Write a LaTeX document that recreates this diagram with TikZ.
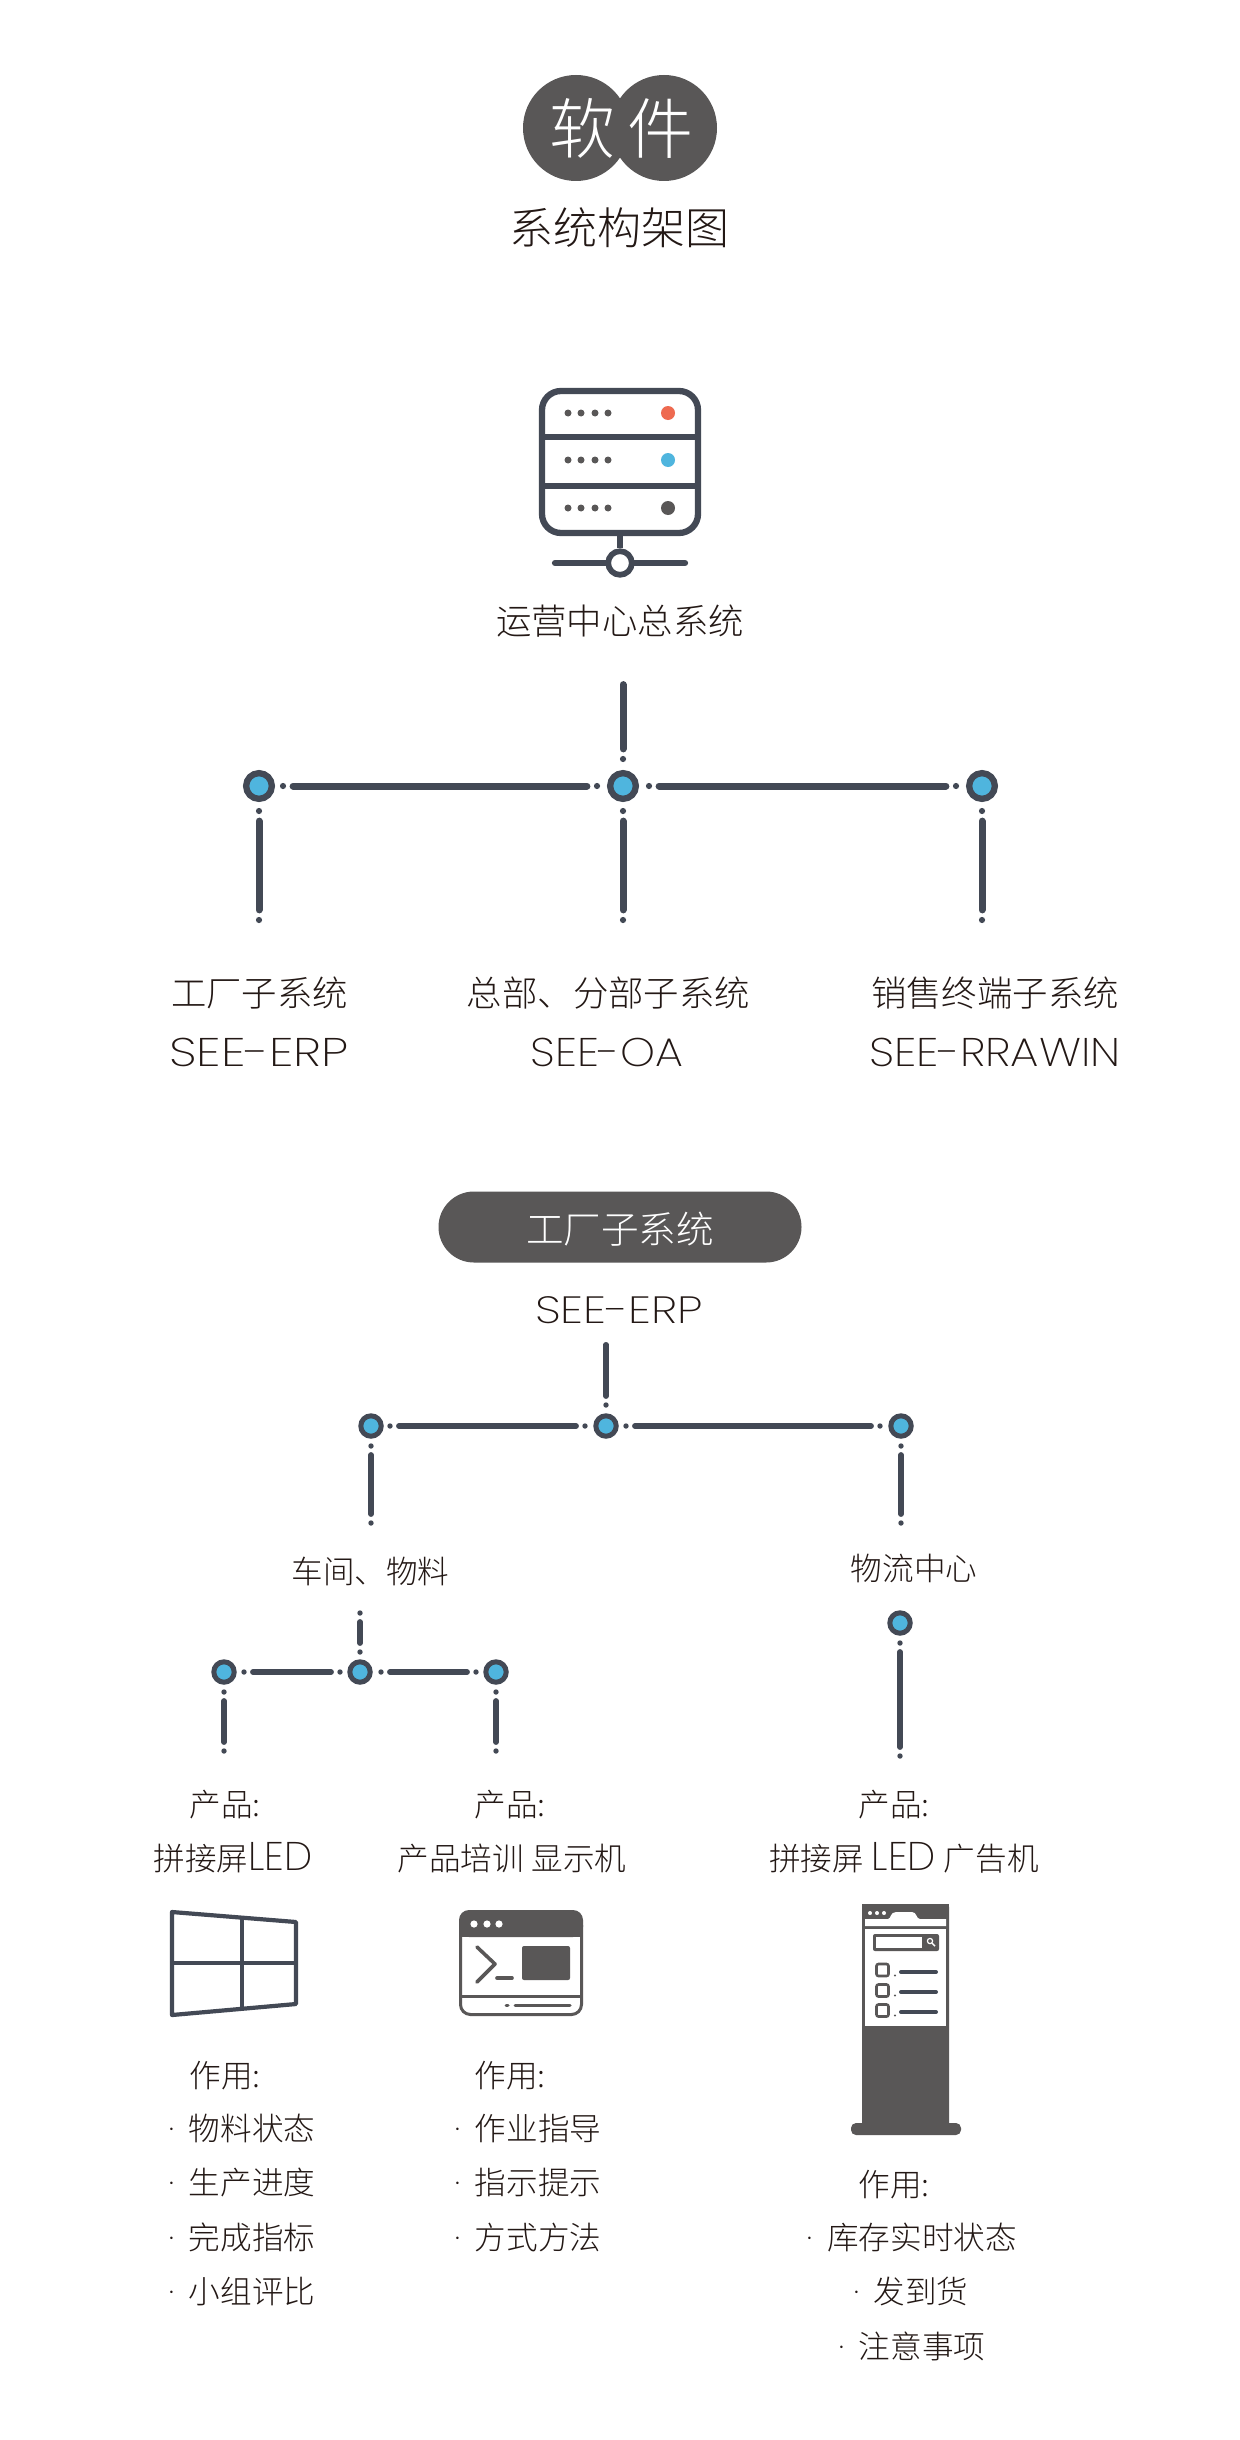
\documentclass[tikz,border=0pt]{standalone}
\usepackage{fontspec}
\setmainfont{Noto Sans CJK SC Light}
\newfontfamily\lat{Poppins ExtraLight}
\newcommand{\blt}{\llap{{\lat ·}\hspace{7.3pt}}}
\definecolor{ln}{HTML}{434955}
\definecolor{gy}{HTML}{595757}
\definecolor{bl}{HTML}{4FB5DE}
\definecolor{rd}{HTML}{EE6A50}
\definecolor{tx}{HTML}{231815}
\tikzset{
 txt/.style={inner sep=0pt,text=tx,anchor=center,text depth=0pt},
 big/.style={txt,text height=13.4pt,font=\fontsize{17.7pt}{20pt}\selectfont},
 mid/.style={txt,text height=12pt,font=\fontsize{15.8pt}{18pt}\selectfont},
 ltn/.style={txt,text height=14pt,font=\lat\fontsize{20pt}{22pt}\selectfont},
 ringa/.style={circle,draw=ln,fill=bl,line width=3.15pt,minimum size=12.85pt,inner sep=0pt},
 ringb/.style={circle,draw=ln,fill=bl,line width=2.5pt,minimum size=10.2pt,inner sep=0pt},
 dota/.style={circle,fill=ln,inner sep=0pt,minimum size=3.1pt},
 dotb/.style={circle,fill=ln,inner sep=0pt,minimum size=2.7pt},
 conna/.style={draw=ln,line width=3.5pt,line cap=round,shorten <=3.3pt,shorten >=3.3pt},
 connb/.style={draw=ln,line width=2.7pt,line cap=round,shorten <=2.85pt,shorten >=2.85pt},
 icon/.style={draw=ln,line width=3.15pt,line cap=round},
 sdot/.style={circle,fill=gy,inner sep=0pt,minimum size=3.5pt},
 ldot/.style={circle,inner sep=0pt,minimum size=7pt},
}
\begin{document}
\begin{tikzpicture}[x=0.5pt,y=-0.5pt]
\useasboundingbox (0,0) rectangle (1240,2440);
\fill[white] (0,0) rectangle (1240,2440);
% title
\node[circle,fill=gy,minimum size=53pt,inner sep=0pt] (cl) at (576,128) {};
\node[circle,fill=gy,minimum size=53pt,inner sep=0pt] (cr) at (664,128) {};
\node[txt,text=white,text height=25pt,font=\fontsize{33pt}{35pt}\selectfont] (t1) at (582,129) {软};
\node[txt,text=white,text height=25pt,font=\fontsize{33pt}{35pt}\selectfont] (t2) at (660,129) {件};
\node[txt,text height=16.7pt,font=\fontsize{22pt}{24pt}\selectfont] (t3) at (619.5,228) {系统构架图};
% server
\node[draw=ln,line width=3.15pt,rounded corners=9.5pt,minimum width=78pt,minimum height=71pt,inner sep=0pt,outer sep=0pt] (srv) at (620,462) {};
\draw[icon,line cap=butt] (542,437) -- (698,437) (542,486) -- (698,486);
\foreach \yy/\cc [count=\i] in {413/rd,460/bl,508/gy}{
  \foreach \xx [count=\j] in {568,581,595,608}{\node[sdot] (s\i\j) at (\xx,\yy) {};}
  \node[ldot,fill=\cc] (sl\i) at (668,\yy) {};
}
\node[circle,draw=ln,fill=white,line width=2.85pt,minimum size=11.8pt,inner sep=0pt] (hub) at (620,563) {};
\coordinate (hl) at (555,563);
\coordinate (hr) at (685,563);
\draw[icon] (hl) -- (hub);
\draw[icon] (hr) -- (hub);
\draw[icon,line cap=butt] (srv.south) -- (hub.north);
\node[big] (l0) at (620,621) {运营中心总系统};
% network 1
\node[ringa] (a0) at (259,786) {};
\node[ringa] (a1) at (623,786) {};
\node[ringa] (a2) at (982,786) {};
\coordinate (a1top) at (623,678);
\node[dota] (a1t) at (623,759) {};
\node[dota] (a0r) at (283,786) {};
\node[dota] (a1l) at (597,786) {};
\node[dota] (a1r) at (649,786) {};
\node[dota] (a2l) at (956,786) {};
\node[dota] (a0d) at (259,811) {};
\node[dota] (a1d) at (623,811) {};
\node[dota] (a2d) at (982,811) {};
\node[dota] (a0e) at (259,920) {};
\node[dota] (a1e) at (623,920) {};
\node[dota] (a2e) at (982,920) {};
\draw[conna] (a1top) -- (a1t);
\draw[conna] (a0r) -- (a1l);
\draw[conna] (a1r) -- (a2l);
\draw[conna] (a0d) -- (a0e);
\draw[conna] (a1d) -- (a1e);
\draw[conna] (a2d) -- (a2e);
\node[big] (b1) at (259.5,993) {工厂子系统};
\node[big] (b2) at (608.5,993) {总部、分部子系统};
\node[big] (b3) at (995,993) {销售终端子系统};
\node[ltn,xscale=1.24] (b4) at (259,1052) {SEE-ERP};
\node[ltn,xscale=1.11] (b5) at (607,1052) {SEE-OA};
\node[ltn,xscale=1.13] (b6) at (995,1052) {SEE-RRAWIN};
% pill
\node[rounded corners=17.7pt,fill=gy,minimum width=181.5pt,minimum height=35.5pt,inner sep=0pt] (pill) at (620,1227) {};
\node[txt,text=white,text height=14.3pt,font=\fontsize{18.8pt}{20pt}\selectfont] (pt) at (620,1229) {工厂子系统};
\node[ltn,xscale=1.22,text height=13.3pt,font=\lat\fontsize{19pt}{21pt}\selectfont] (pe) at (619,1310) {SEE-ERP};
% network 2
\node[ringb] (c0) at (371,1426) {};
\node[ringb] (c1) at (606,1426) {};
\node[ringb] (c2) at (901,1426) {};
\coordinate (c1top) at (606,1339);
\node[dotb] (c1t) at (606,1405) {};
\node[dotb] (c0r) at (390,1426) {};
\node[dotb] (c1l) at (585,1426) {};
\node[dotb] (c1r) at (626,1426) {};
\node[dotb] (c2l) at (880,1426) {};
\node[dotb] (c0d) at (371,1446) {};
\node[dotb] (c2d) at (901,1446) {};
\node[dotb] (c0e) at (371,1523) {};
\node[dotb] (c2e) at (901,1523) {};
\draw[connb] (c1top) -- (c1t);
\draw[connb] (c0r) -- (c1l);
\draw[connb] (c1r) -- (c2l);
\draw[connb] (c0d) -- (c0e);
\draw[connb] (c2d) -- (c2e);
\node[mid] (d1) at (370.5,1571.5) {车间、物料};
\node[mid] (d2) at (914,1568.5) {物流中心};
% network 3
\node[ringb] (e0) at (224,1672) {};
\node[ringb] (e1) at (360,1672) {};
\node[ringb] (e2) at (496,1672) {};
\node[ringb] (f0) at (900,1623) {};
\node[dotb] (e1u) at (360,1613) {};
\node[dotb] (e1t) at (360,1652) {};
\node[dotb] (e0r) at (244,1672) {};
\node[dotb] (e1l) at (340,1672) {};
\node[dotb] (e1r) at (381,1672) {};
\node[dotb] (e2l) at (476,1672) {};
\node[dotb] (e0d) at (224,1692) {};
\node[dotb] (e2d) at (496,1692) {};
\node[dotb] (e0e) at (224,1751) {};
\node[dotb] (e2e) at (496,1751) {};
\node[dotb] (f0d) at (900,1643) {};
\node[dotb] (f0e) at (900,1756) {};
\draw[connb] (e1u) -- (e1t);
\draw[connb] (e0r) -- (e1l);
\draw[connb] (e1r) -- (e2l);
\draw[connb] (e0d) -- (e0e);
\draw[connb] (e2d) -- (e2e);
\draw[connb] (f0d) -- (f0e);
% product labels
\node[mid] (g1) at (225,1804.5) {产品:};
\node[mid] (g2) at (233,1858.5) {拼接屏{\lat\fontsize{20pt}{20pt}\selectfont LED}};
\node[mid] (g3) at (510,1804.5) {产品:};
\node[mid] (g4) at (512,1858.5) {产品培训\hspace{.25em}显示机};
\node[mid] (g5) at (894,1804.5) {产品:};
\node[mid] (g6) at (904,1858.5) {拼接屏\hspace{.25em}{\lat\fontsize{20pt}{20pt}\selectfont LED}\hspace{.25em}广告机};
% window icon
\draw[draw=ln,line width=2.1pt,line join=round] (172,1912) -- (296,1922) -- (296,2004) -- (172,2015) -- cycle;
\draw[draw=ln,line width=2.1pt] (242,1918) -- (242,2008) (172,1963) -- (296,1963);
% terminal icon
\fill[gy,rounded corners=5pt] (459,1910) -- (583,1910) -- (583,1937) -- (459,1937) -- cycle;
\fill[gy] (459,1925) rectangle (583,1937);
\draw[gy,line width=1.5pt,rounded corners=5pt] (460.5,1925) -- (460.5,2014.5) -- (581.5,2014.5) -- (581.5,1925);
\foreach \xx in {474,487,499}{\fill[white] (\xx,1924) circle (1.8pt);}
\draw[gy,line width=1.8pt,line cap=round,line join=round] (477,1947) -- (495,1964) -- (477,1982);
\draw[gy,line width=1.8pt,line cap=round] (497,1978) -- (512,1978);
\fill[gy,rounded corners=1pt] (522,1946) rectangle (570,1980);
\draw[gy,line width=1.5pt] (460,1996) -- (582,1996);
\draw[gy,line width=1.5pt,line cap=round] (506,2005) -- (508,2005) (515,2005) -- (570,2005);
% kiosk icon
\fill[gy,rounded corners=1.5pt] (862,1904) rectangle (949,2128);
\fill[gy,rounded corners=2.5pt] (851,2123) rectangle (961,2135);
\fill[white] (865,1929) rectangle (946,2026);
\fill[white] (865,1926) -- (865,1919) -- (888,1919) .. controls (891,1919) and (890,1912) .. (896,1912) -- (912,1912) .. controls (917,1912) and (916,1919) .. (920,1919) -- (946,1919) -- (946,1926) -- cycle;
\fill[gy] (862,1904) -- (862,1912) -- (949,1912) -- (949,1904) -- cycle;
\foreach \xx in {870,877,884}{\fill[white] (\xx,1913) circle (1pt);}
\fill[gy,rounded corners=1pt] (873,1934) rectangle (939,1951);
\fill[white] (876,1937) rectangle (922,1948);
\draw[white,line width=.6pt] (930,1941) circle (1.3pt);
\draw[white,line width=.7pt] (932,1943) -- (935,1946);
\foreach \yy/\ll in {1970/1972,1990.5/1992,2010.5/2012}{
  \draw[gy,line width=1.3pt,rounded corners=1pt] (876.5,\yy-6) rectangle (888.5,\yy+6);
  \draw[ln,line width=2pt,line cap=round] (901,\ll) -- (936,\ll);
  \fill[gy] (895,\ll+3.5) circle (.6pt);
}
% purpose labels
\node[mid] (h1) at (225,2075.5) {作用:};
\node[mid] (h2) at (252,2128.5) {\blt 物料状态};
\node[mid] (h3) at (252,2182.5) {\blt 生产进度};
\node[mid] (h4) at (252,2237.5) {\blt 完成指标};
\node[mid] (h5) at (252,2291.5) {\blt 小组评比};
\node[mid] (i1) at (510,2075.5) {作用:};
\node[mid] (i2) at (538,2128.5) {\blt 作业指导};
\node[mid] (i3) at (538,2182.5) {\blt 指示提示};
\node[mid] (i4) at (538,2237.5) {\blt 方式方法};
\node[mid] (j1) at (894,2184.5) {作用:};
\node[mid] (j2) at (922,2237.5) {\blt 库存实时状态};
\node[mid] (j3) at (921,2291.5) {\blt 发到货};
\node[mid] (j4) at (922,2346.5) {\blt 注意事项};
\end{tikzpicture}
\end{document}
